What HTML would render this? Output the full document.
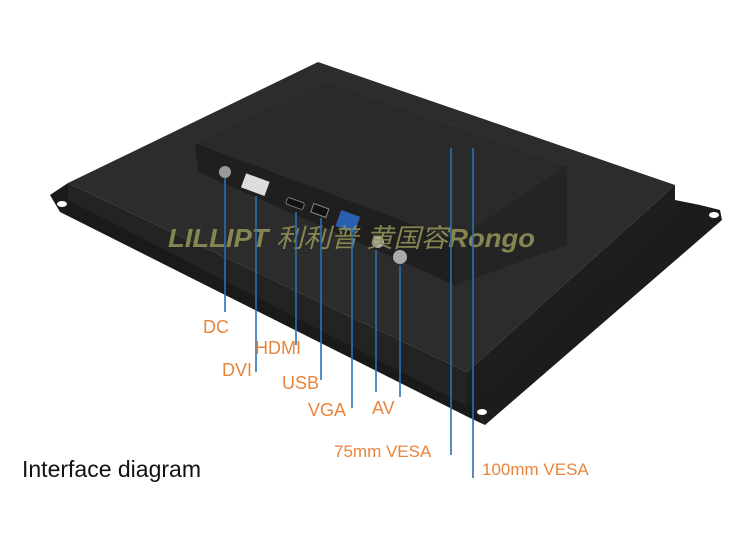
<!DOCTYPE html>
<html><head><meta charset="utf-8"><style>
html,body{margin:0;padding:0;background:#fff;}
svg{display:block;}
</style></head><body>
<svg width="750" height="553" viewBox="0 0 750 553" xmlns="http://www.w3.org/2000/svg">
<rect width="750" height="553" fill="#fff"/>
<!-- flanges -->
<polygon points="50,195 68,183 467,395 485,425 470,418 60,212" fill="#1a1a1a"/>
<polygon points="467,395 675,200 700,205 720,210 722,220 485,425" fill="#1c1c1c"/>
<ellipse cx="62" cy="204" rx="5" ry="3" fill="#fff"/>
<ellipse cx="714" cy="215" rx="5" ry="3" fill="#fff"/>
<ellipse cx="482" cy="412" rx="5" ry="3" fill="#fff"/>
<!-- big plate -->
<polygon points="68,183 318,62 675,185 467,372" fill="#2c2c2c"/>
<polygon points="68,183 467,372 467,406 68,200" fill="#232323"/>
<polygon points="467,372 675,185 675,212 467,406" fill="#1e1e1e"/>
<!-- raised box -->
<polygon points="195,143 325,80 567,165 455,240" fill="#2a2a2a" stroke="#3a3a3a" stroke-width="0.5"/>
<polygon points="195,143 455,240 455,285 198,172" fill="#1f1f1f"/>
<polygon points="455,240 567,165 567,245 455,285" fill="#242424"/>
<!-- ports -->
<circle cx="225" cy="172" r="6" fill="#999"/>
<rect x="243" y="177" width="25" height="15" fill="#ddd" transform="rotate(20 255 184)"/>
<rect x="286" y="200" width="18" height="7" rx="2" fill="#111" stroke="#777" transform="rotate(20 295 204)"/>
<rect x="312" y="206" width="16" height="9" fill="#111" stroke="#888" transform="rotate(20 320 210)"/>
<rect x="338" y="213" width="20" height="17" fill="#2a5fb0" transform="rotate(20 348 221)"/>
<circle cx="378" cy="242" r="6" fill="#aaa"/>
<circle cx="400" cy="257" r="7" fill="#aaa"/>
<!-- watermark -->
<text x="168" y="247" textLength="367" lengthAdjust="spacingAndGlyphs" font-family="Liberation Sans, 'Noto Sans CJK SC', sans-serif" font-size="26" font-style="italic" font-weight="bold" fill="#8f9055" fill-opacity="0.9">LILLIPT <tspan font-weight="normal">利利普 黄国容</tspan>Rongo</text>
<!-- blue lines -->
<g stroke="#2c6fb2" stroke-width="1.6">
<line x1="225" y1="178" x2="225" y2="312"/>
<line x1="256" y1="196" x2="256" y2="372"/>
<line x1="296" y1="212" x2="296" y2="345"/>
<line x1="321" y1="218" x2="321" y2="380"/>
<line x1="352" y1="228" x2="352" y2="408"/>
<line x1="376" y1="250" x2="376" y2="392"/>
<line x1="400" y1="265" x2="400" y2="397"/>
<line x1="451" y1="148" x2="451" y2="455"/>
<line x1="473" y1="148" x2="473" y2="478"/>
</g>
<g font-family="Liberation Sans, sans-serif" font-size="18" fill="#e8843c">
<text x="203" y="333">DC</text>
<text x="255" y="354">HDMI</text>
<text x="222" y="376">DVI</text>
<text x="282" y="389">USB</text>
<text x="308" y="416">VGA</text>
<text x="372" y="414">AV</text>
<text x="334" y="457" font-size="17">75mm VESA</text>
<text x="482" y="475" font-size="17">100mm VESA</text>
</g>
<text x="22" y="477" font-family="Liberation Sans, sans-serif" font-size="23" fill="#111">Interface diagram</text>
</svg>
</body></html>
